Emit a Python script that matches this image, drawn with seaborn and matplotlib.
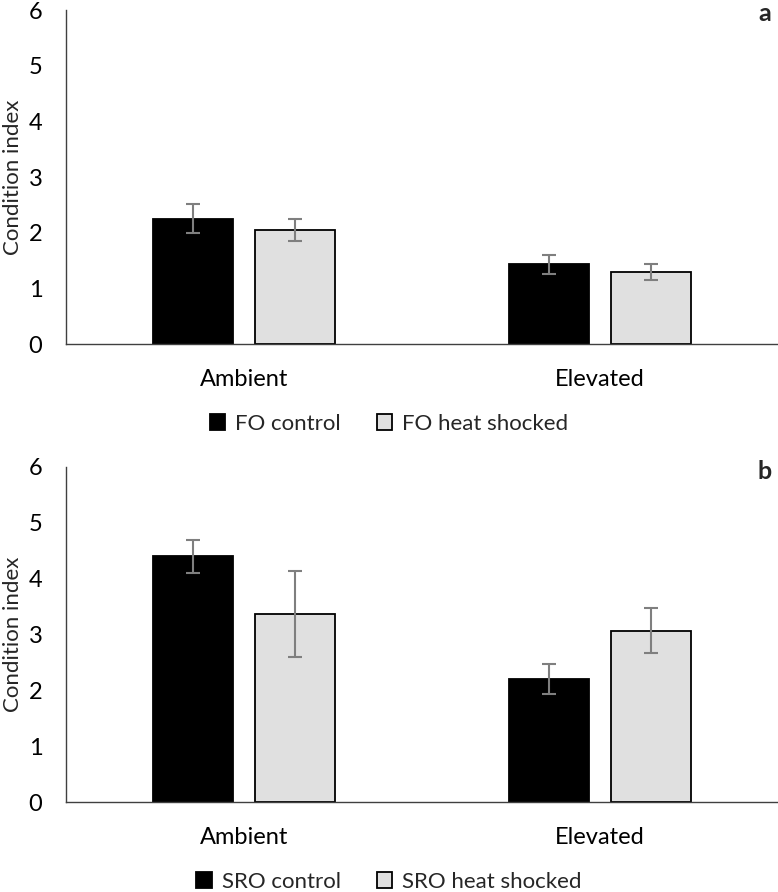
import matplotlib
matplotlib.use("Agg")
import matplotlib.pyplot as plt
import pandas as pd
import seaborn as sns

# data
temps = ["Ambient", "Elevated"]

fo_groups = ["FO control", "FO heat shocked"]
fo_mean = {"FO control": [2.25, 1.43], "FO heat shocked": [2.05, 1.29]}
fo_err = {"FO control": [0.26, 0.17], "FO heat shocked": [0.19, 0.14]}

sro_groups = ["SRO control", "SRO heat shocked"]
sro_mean = {"SRO control": [4.40, 2.21], "SRO heat shocked": [3.37, 3.07]}
sro_err = {"SRO control": [0.29, 0.27], "SRO heat shocked": [0.77, 0.40]}

bar_colors = ["#000000", "#e0e0e0"]

sns.set_theme(style="white")
plt.rcParams["font.family"] = ["Lato", "DejaVu Sans"]

fig = plt.figure(figsize=(7.78, 8.92), dpi=100)
ax_a = fig.add_axes([0.0848, 0.6143, 0.9152, 0.3744])
ax_b = fig.add_axes([0.0848, 0.1006, 0.9152, 0.3759])


def panel(ax, groups, means, errs, letter, letter_y, legend_y):
    df = pd.DataFrame({
        "temp": temps * len(groups),
        "group": [g for g in groups for _ in temps],
        "value": [v for g in groups for v in means[g]],
    })
    sns.barplot(data=df, x="temp", y="value", hue="group", order=temps,
                hue_order=groups, palette=bar_colors, width=0.573, gap=0.216,
                edgecolor="black", linewidth=1.3, errorbar=None, ax=ax)
    for cont, g in zip(ax.containers, groups):
        xs = [p.get_x() + p.get_width() / 2 for p in cont]
        ys = [p.get_height() for p in cont]
        ax.errorbar(xs, ys, yerr=errs[g], fmt="none", ecolor="#7f7f7f",
                    elinewidth=1.5, capsize=5, capthick=1.5)
    ax.set_xlim(-0.5, 1.5)
    ax.set_ylim(0, 6)
    ax.set_yticks(range(0, 7))
    ax.set_xlabel("")
    ax.set_ylabel("Condition index", fontsize=16)
    ax.yaxis.set_label_coords(-0.06, 0.5)
    ax.tick_params(axis="both", length=0, labelsize=17, colors="black")
    ax.tick_params(axis="y", pad=17)
    ax.tick_params(axis="x", pad=18)
    for side in ["top", "right"]:
        ax.spines[side].set_visible(False)
    for side in ["left", "bottom"]:
        ax.spines[side].set_color("#404040")
        ax.spines[side].set_linewidth(1.0)
    handles, labels = ax.get_legend_handles_labels()
    ax.get_legend().remove()
    fig.legend(handles, labels, loc="center", bbox_to_anchor=(0.5, legend_y),
               ncol=2, frameon=False, fontsize=16, handlelength=0.7,
               handleheight=0.7, handletextpad=0.45, columnspacing=1.6)
    fig.text(0.983, letter_y, letter, fontsize=18, fontweight="bold",
             ha="center", va="center")


panel(ax_a, fo_groups, fo_mean, fo_err, "a", 0.985, 0.5247)
panel(ax_b, sro_groups, sro_mean, sro_err, "b", 0.471, 0.0115)

fig.savefig("out.png", dpi=100)
